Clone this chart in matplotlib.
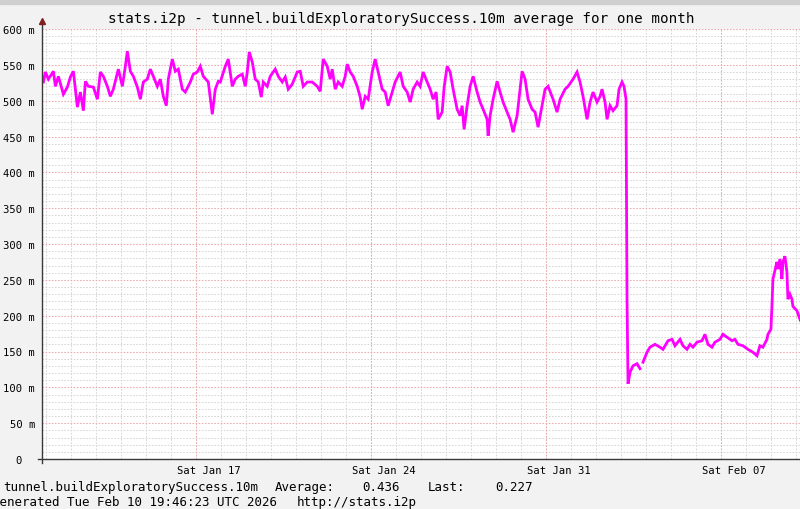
import numpy as np
import matplotlib
matplotlib.use("Agg")
import matplotlib.pyplot as plt
from matplotlib.patches import Rectangle

# ---- data: days since 2026-01-17 00:00 UTC, values in milli-units ----
days = [
    -6.12, -6.04, -5.92, -5.72, -5.64, -5.52, -5.32, -5.16, -5.04, -4.92,
    -4.76, -4.64, -4.52, -4.44, -4.32, -4.12, -3.96, -3.84, -3.72, -3.56,
    -3.44, -3.32, -3.12, -2.96, -2.84, -2.76, -2.64, -2.52, -2.36, -2.24,
    -2.12, -1.96, -1.84, -1.72, -1.56, -1.44, -1.32, -1.20, -1.12, -0.96,
    -0.84, -0.72, -0.56, -0.44, -0.24, -0.12, 0.04, 0.16, 0.28, 0.48,
    0.64, 0.76, 0.88, 0.96, 1.16, 1.28, 1.44, 1.56, 1.68, 1.84,
    1.96, 2.04, 2.12, 2.24, 2.36, 2.48, 2.60, 2.68, 2.84, 2.96,
    3.16, 3.28, 3.44, 3.56, 3.68, 3.84, 4.04, 4.16, 4.28, 4.44,
    4.64, 4.84, 4.96, 5.08, 5.24, 5.36, 5.44, 5.56, 5.68, 5.84,
    5.96, 6.04, 6.16, 6.28, 6.44, 6.56, 6.64, 6.76, 6.88, 7.04,
    7.16, 7.28, 7.44, 7.56, 7.68, 7.84, 7.96, 8.16, 8.28, 8.44,
    8.56, 8.68, 8.84, 8.96, 9.08, 9.24, 9.36, 9.48, 9.60, 9.68,
    9.84, 9.92, 10.04, 10.16, 10.28, 10.44, 10.56, 10.64, 10.72, 10.84,
    10.96, 11.08, 11.24, 11.36, 11.48, 11.64, 11.68, 11.76, 11.88, 12.04,
    12.16, 12.28, 12.44, 12.56, 12.68, 12.84, 12.96, 13.04, 13.16, 13.28,
    13.44, 13.56, 13.68, 13.84, 13.96, 14.08, 14.28, 14.44, 14.56, 14.76,
    14.88, 15.08, 15.24, 15.36, 15.48, 15.64, 15.76, 15.88, 16.04, 16.16,
    16.24, 16.36, 16.44, 16.56, 16.68, 16.84, 16.92, 17.04, 17.12, 17.20,
    17.24, 17.28, 17.36, 17.48, 17.64, 17.76, 17.82, 17.88, 18.04, 18.16,
    18.36, 18.56, 18.68, 18.88, 19.04, 19.16, 19.36, 19.48, 19.64, 19.76,
    19.88, 20.04, 20.24, 20.36, 20.48, 20.64, 20.76, 20.96, 21.08, 21.24,
    21.44, 21.56, 21.68, 21.88, 22.08, 22.28, 22.44, 22.56, 22.68, 22.84,
    22.88, 23.00, 23.04, 23.08, 23.24, 23.28, 23.36, 23.44, 23.48, 23.56,
    23.64, 23.68, 23.76, 23.84, 23.88, 24.04, 24.16, 24.40, 24.70, 24.82,
]
values = [
    526, 540, 530, 541, 520, 534, 509, 519, 533, 541,
    491, 512, 486, 527, 520, 519, 502, 540, 534, 520,
    506, 516, 544, 520, 548, 569, 541, 534, 519, 502,
    526, 530, 544, 534, 520, 530, 506, 493, 530, 558,
    541, 544, 516, 512, 526, 537, 540, 548, 534, 526,
    481, 516, 527, 526, 548, 558, 520, 530, 534, 537,
    520, 540, 568, 554, 530, 526, 505, 526, 520, 534,
    544, 534, 526, 533, 516, 523, 540, 541, 520, 526,
    526, 520, 513, 558, 548, 530, 544, 516, 526, 520,
    534, 551, 540, 534, 520, 505, 488, 506, 502, 540,
    558, 540, 516, 512, 493, 512, 526, 540, 520, 512,
    498, 516, 526, 520, 540, 526, 516, 502, 512, 474,
    484, 519, 548, 540, 516, 488, 479, 493, 460, 493,
    520, 534, 512, 498, 488, 474, 451, 479, 502, 527,
    512, 498, 484, 474, 456, 479, 516, 541, 530, 502,
    488, 484, 463, 493, 516, 520, 502, 484, 502, 516,
    520, 530, 540, 526, 506, 474, 498, 512, 498, 506,
    516, 498, 474, 493, 486, 493, 516, 526, 520, 502,
    223, 105, 121, 130, 133, 126, np.nan, 135, 149, 156,
    160, 156, 153, 165, 167, 158, 167, 158, 153, 160,
    156, 163, 165, 174, 160, 156, 163, 167, 174, 170,
    165, 167, 160, 158, 153, 149, 144, 158, 156, 167,
    174, 181, 213, 251, 275, 265, 279, 251, 275, 283,
    261, 223, 230, 223, 213, 207, 195, 205, 227, 227,
]

title = "stats.i2p - tunnel.buildExploratorySuccess.10m average for one month"
y_ticks = [0, 50, 100, 150, 200, 250, 300, 350, 400, 450, 500, 550, 600]
y_labels = ["0", "50 m", "100 m", "150 m", "200 m", "250 m", "300 m",
            "350 m", "400 m", "450 m", "500 m", "550 m", "600 m"]
saturdays = [0, 7, 14, 21]
x_labels = ["Sat Jan 17", "Sat Jan 24", "Sat Jan 31", "Sat Feb 07"]
x_start, x_end = -6.176, 24.824
legend_name = "tunnel.buildExploratorySuccess.10m"
avg_txt = "0.436"
last_txt = "0.227"
footer = "Generated Tue Feb 10 19:46:23 UTC 2026"
url = "http://stats.i2p"

W, H = 800, 510
MONO = "DejaVu Sans Mono"

fig = plt.figure(figsize=(W / 100, H / 100), dpi=100, facecolor="#f2f2f2")
fig.patches.append(Rectangle((0, 1 - 5 / H), 1, 5 / H, transform=fig.transFigure,
                             color="#cfcfcf", zorder=0))

def fx(px):
    return px / W

def fy(py):
    return 1 - py / H

left, right, top, bottom = 42, 816.5, 30, 460
ax = fig.add_axes([fx(left), fy(bottom), (right - left) / W, (bottom - top) / H])
ax.set_facecolor("white")
for s in ax.spines.values():
    s.set_visible(False)
ax.set_xlim(x_start, x_end)
ax.set_ylim(0, 600)

grid_c = "#d6d6d6"
mgrid_c = "#eeaaaa"
dots = (0, (1.5, 1.5))

# y grid
ax.set_yticks(y_ticks)
ax.set_yticklabels(y_labels, fontfamily=MONO, fontsize=7.6)
ax.set_yticks(np.arange(0, 601, 10), minor=True)
ax.grid(axis="y", which="minor", color=grid_c, linestyle=dots, lw=0.75, alpha=1)
ax.grid(axis="y", which="major", color=mgrid_c, linestyle=dots, lw=0.75, alpha=1)

# x grid: daily minor lines, Saturday major lines; labels at noon
ax.set_xticks(np.arange(-6, 25, 1), minor=True)
ax.grid(axis="x", which="minor", color=grid_c, linestyle=dots, lw=0.75, alpha=1)
for s in saturdays:
    ax.axvline(s, color=mgrid_c, linestyle=dots, lw=0.75, zorder=0.6)
ax.set_xticks([s + 0.5 for s in saturdays])
ax.set_xticklabels(x_labels, fontfamily=MONO, fontsize=7.6)
ax.tick_params(axis="x", which="both", length=0, pad=4)
ax.tick_params(axis="y", which="both", length=0, pad=5)
ax.yaxis.get_major_ticks()[0].set_pad(14.5)
ax.set_axisbelow(True)

ax.plot(days, values, color="#ff00ff", lw=2.0, zorder=3,
        solid_joinstyle="miter")

# axes lines + arrow
axis_c = "#3a3a3a"
ax.plot([-4 / (right - left), 1.02], [0, 0], transform=ax.transAxes, color=axis_c,
        lw=1.0, clip_on=False, zorder=4)
ax.plot([0, 0], [-4 / (bottom - top), 1.012], transform=ax.transAxes, color=axis_c,
        lw=1.0, clip_on=False, zorder=4)
ax.plot([0], [1.018], transform=ax.transAxes, marker="^", markersize=5,
        color=(0.5, 0.12, 0.12), clip_on=False, zorder=5)

# title and legend text
fig.text(fx(401.5), fy(19), title, fontfamily=MONO, fontsize=10.25,
         ha="center", va="center")
fig.text(fx(3), fy(488), legend_name, fontfamily=MONO, fontsize=9, ha="left", va="center")
fig.text(fx(275), fy(488), "Average:", fontfamily=MONO, fontsize=9, ha="left", va="center")
fig.text(fx(400), fy(488), avg_txt, fontfamily=MONO, fontsize=9, ha="right", va="center")
fig.text(fx(428), fy(488), "Last:", fontfamily=MONO, fontsize=9, ha="left", va="center")
fig.text(fx(533), fy(488), last_txt, fontfamily=MONO, fontsize=9, ha="right", va="center")
fig.text(fx(-7.5), fy(503), footer, fontfamily=MONO, fontsize=9, ha="left", va="center")
fig.text(fx(297), fy(503), url, fontfamily=MONO, fontsize=9, ha="left", va="center")

fig.savefig("out.png", dpi=100, facecolor=fig.get_facecolor())
